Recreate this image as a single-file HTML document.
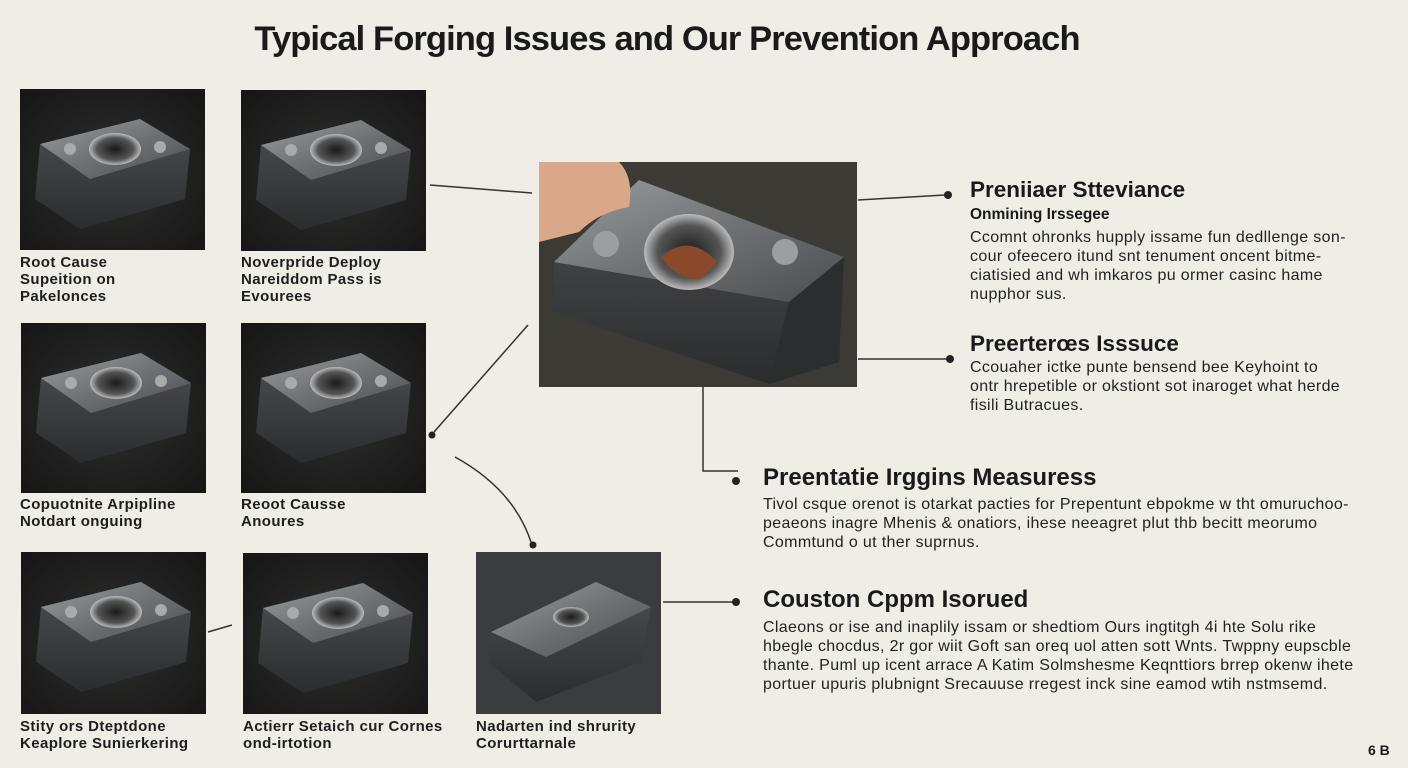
<!DOCTYPE html>
<html><head><meta charset="utf-8"><style>
body{margin:0;width:1408px;height:768px;background:#efede5;position:relative;overflow:hidden;font-family:"Liberation Sans",sans-serif;color:#1c1c1c}
h1{position:absolute;left:0;width:1334px;text-align:center;top:20px;margin:0;font-size:34.5px;font-weight:bold;letter-spacing:-0.9px;color:#1a1a1a}
.cap{position:absolute;font-size:15px;letter-spacing:0.4px;font-weight:bold;line-height:17px;color:#1e1e1e;white-space:nowrap}
.h{position:absolute;font-weight:bold;white-space:nowrap;color:#1a1a1a}
.b{position:absolute;font-size:16px;letter-spacing:0.35px;line-height:19px;white-space:nowrap;color:#222}
svg.p{position:absolute}
</style></head><body>
<h1>Typical Forging Issues and Our Prevention Approach</h1>

<svg width="0" height="0" style="position:absolute"><defs>
<linearGradient id="top" x1="0" y1="0" x2="1" y2="1"><stop offset="0" stop-color="#9a9d9f"/><stop offset="0.5" stop-color="#6f7274"/><stop offset="1" stop-color="#4a4d4f"/></linearGradient>
<linearGradient id="side" x1="0" y1="0" x2="0" y2="1"><stop offset="0" stop-color="#4d5052"/><stop offset="1" stop-color="#2a2c2d"/></linearGradient>
<radialGradient id="bg" cx="0.5" cy="0.5" r="0.7"><stop offset="0" stop-color="#2f2f2e"/><stop offset="1" stop-color="#151515"/></radialGradient>
<radialGradient id="hole" cx="0.5" cy="0.5" r="0.5"><stop offset="0" stop-color="#1a1a1a"/><stop offset="0.7" stop-color="#555"/><stop offset="1" stop-color="#bbb"/></radialGradient>
<g id="blk">
<rect width="185" height="170" fill="url(#bg)"/>
<polygon points="20,55 120,30 170,60 165,110 60,140 15,110" fill="url(#side)"/>
<polygon points="20,55 120,30 170,60 70,90" fill="url(#top)"/>
<ellipse cx="95" cy="60" rx="26" ry="16" fill="url(#hole)"/>
<circle cx="50" cy="60" r="6" fill="#aaa"/><circle cx="140" cy="58" r="6" fill="#aaa"/>
</g>
</defs></svg>

<svg class="p" style="left:20px;top:89px" width="185" height="161"><use href="#blk"/></svg>
<svg class="p" style="left:241px;top:90px" width="185" height="161"><use href="#blk"/></svg>
<svg class="p" style="left:21px;top:323px" width="185" height="170"><use href="#blk"/></svg>
<svg class="p" style="left:241px;top:323px" width="185" height="170"><use href="#blk"/></svg>
<svg class="p" style="left:21px;top:552px" width="185" height="162"><use href="#blk"/></svg>
<svg class="p" style="left:243px;top:553px" width="185" height="161"><use href="#blk"/></svg>
<svg class="p" style="left:476px;top:552px" width="185" height="162"><rect width="185" height="162" fill="#3a3c3d"/><polygon points="15,80 120,30 175,55 165,110 60,150 12,110" fill="url(#side)"/><polygon points="15,80 120,30 175,55 70,105" fill="url(#top)"/><ellipse cx="95" cy="65" rx="18" ry="10" fill="url(#hole)"/></svg>

<svg class="p" style="left:539px;top:162px" width="318" height="225">
<rect width="318" height="225" fill="#3b3a35"/>
<polygon points="15,100 100,18 305,95 300,200 230,222 15,150" fill="url(#side)"/>
<polygon points="15,100 100,18 305,95 250,140" fill="url(#top)"/>
<polygon points="250,140 305,95 300,200 230,222" fill="#2b2d2e"/>
<ellipse cx="150" cy="90" rx="45" ry="38" fill="url(#hole)"/>
<path d="M122,95 Q150,70 178,100 L160,118 Q135,115 122,95Z" fill="#8a4a2a"/>
<circle cx="67" cy="82" r="13" fill="#9c9fa1"/><circle cx="246" cy="90" r="13" fill="#9c9fa1"/>
<path d="M0,0 L80,0 Q95,15 90,45 Q60,50 40,70 L0,80Z" fill="#d9a888"/>
</svg>

<div class="cap" style="left:20px;top:254px">Root Cause<br>Supeition on<br>Pakelonces</div>
<div class="cap" style="left:241px;top:254px">Noverpride Deploy<br>Nareiddom Pass is<br>Evourees</div>
<div class="cap" style="left:20px;top:496px">Copuotnite Arpipline<br>Notdart onguing</div>
<div class="cap" style="left:241px;top:496px">Reoot Causse<br>Anoures</div>
<div class="cap" style="left:20px;top:718px">Stity ors Dteptdone<br>Keaplore Sunierkering</div>
<div class="cap" style="left:243px;top:718px">Actierr Setaich cur Cornes<br>ond-irtotion</div>
<div class="cap" style="left:476px;top:718px">Nadarten ind shrurity<br>Corurttarnale</div>

<svg class="p" style="left:0;top:0" width="1408" height="768" fill="none" stroke="#333" stroke-width="1.5">
<line x1="430" y1="185" x2="532" y2="193"/>
<line x1="858" y1="200" x2="945" y2="195"/>
<line x1="858" y1="359" x2="948" y2="359"/>
<polyline points="703,386 703,471 738,471"/>
<line x1="663" y1="602" x2="733" y2="602"/>
<path d="M528,325 L434,432"/>
<path d="M455,457 Q515,490 532,545"/>
<line x1="208" y1="632" x2="232" y2="625"/>
<g fill="#222" stroke="none">
<circle cx="948" cy="195" r="4"/><circle cx="950" cy="359" r="4"/><circle cx="736" cy="481" r="4"/><circle cx="736" cy="602" r="4"/>
<circle cx="432" cy="435" r="3.5"/><circle cx="533" cy="545" r="3.5"/>
</g>
</svg>

<div class="h" style="left:970px;top:177px;font-size:22.5px">Preniiaer Stteviance</div>
<div class="h" style="left:970px;top:206px;font-size:15.5px">Onmining Irssegee</div>
<div class="b" style="left:970px;top:228px">Ccomnt ohronks hupply issame fun dedllenge son-<br>cour ofeecero itund snt tenument oncent bitme-<br>ciatisied and wh imkaros pu ormer casinc hame<br>nupphor sus.</div>
<div class="h" style="left:970px;top:331px;font-size:22.5px">Preerterœs Isssuce</div>
<div class="b" style="left:970px;top:358px">Ccouaher ictke punte bensend bee Keyhoint to<br>ontr hrepetible or okstiont sot inaroget what herde<br>fisili Butracues.</div>
<div class="h" style="left:763px;top:464px;font-size:24px">Preentatie Irggins Measuress</div>
<div class="b" style="left:763px;top:495px">Tivol csque orenot is otarkat pacties for Prepentunt ebpokme w tht omuruchoo-<br>peaeons inagre Mhenis &amp; onatiors, ihese neeagret plut thb becitt meorumo<br>Commtund o ut ther suprnus.</div>
<div class="h" style="left:763px;top:586px;font-size:24px">Couston Cppm Isorued</div>
<div class="b" style="left:763px;top:618px">Claeons or ise and inaplily issam or shedtiom Ours ingtitgh 4i hte Solu rike<br>hbegle chocdus, 2r gor wiit Goft san oreq uol atten sott Wnts. Twppny eupscble<br>thante. Puml up icent arrace A Katim Solmshesme Keqnttiors brrep okenw ihete<br>portuer upuris plubnignt Srecauuse rregest inck sine eamod wtih nstmsemd.</div>
<div class="h" style="left:1368px;top:742px;font-size:14px">6 B</div>
</body></html>
